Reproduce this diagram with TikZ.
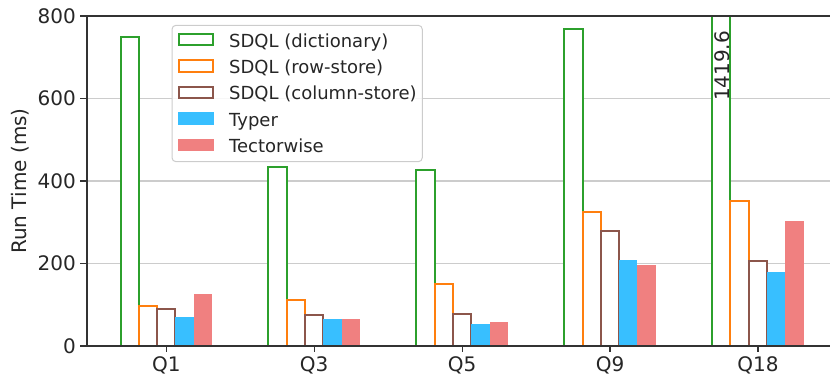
\documentclass[tikz,border=0pt]{standalone}
\usepackage{fontspec}
\setmainfont{DejaVu Sans}
\definecolor{cdict}{HTML}{2CA02C}
\definecolor{crow}{HTML}{FF7F0E}
\definecolor{ccol}{HTML}{8C564B}
\definecolor{ctyper}{HTML}{38BFFF}
\definecolor{ctector}{HTML}{F08080}
\definecolor{gridc}{HTML}{CCCCCC}
\definecolor{spinec}{HTML}{333333}
\begin{document}
\begin{tikzpicture}[x=1pt,y=-1pt,
  hollowbar/.style={draw=#1, line width=2pt, fill=white},
  filledbar/.style={fill=#1, draw=none},
  ticklabel/.style={font=\fontsize{20}{24}\selectfont, inner sep=0pt, text=black!85},
  legendtext/.style={font=\fontsize{18}{22}\selectfont, inner sep=0pt, anchor=base west, text=black!85},
  gridline/.style={gridc, line width=1.5pt},
  spine/.style={spinec, line width=1.5pt},
  tickmark/.style={spinec, line width=1.2pt},
]
\useasboundingbox (0,0) rectangle (830,378);

% horizontal grid
\foreach \v in {200,400,600}
  \draw[gridline] (87,{346-0.4125*\v}) -- (830,{346-0.4125*\v});

% bars, one series after the other
\def\bw{18.3}
\begin{scope}
\clip (87,16) rectangle (830,346);
\foreach \cx/\v in {166.3/750, 314.2/435, 462.1/426, 610/768, 757.9/1419.6}
  \draw[hollowbar=cdict] ({\cx-2.5*\bw},347) rectangle ({\cx-1.5*\bw},{346-0.4125*\v});
\foreach \cx/\v in {166.3/97, 314.2/112, 462.1/150, 610/325, 757.9/352}
  \draw[hollowbar=crow] ({\cx-1.5*\bw},347) rectangle ({\cx-0.5*\bw},{346-0.4125*\v});
\foreach \cx/\v in {166.3/89, 314.2/75, 462.1/78, 610/280, 757.9/205}
  \draw[hollowbar=ccol] ({\cx-0.5*\bw},347) rectangle ({\cx+0.5*\bw},{346-0.4125*\v});
\foreach \cx/\v in {166.3/70, 314.2/66, 462.1/54, 610/209, 757.9/180}
  \fill[filledbar=ctyper] ({\cx+0.5*\bw},346) rectangle ({\cx+1.5*\bw},{346-0.4125*\v});
\foreach \cx/\v in {166.3/125, 314.2/66, 462.1/57, 610/197, 757.9/304}
  \fill[filledbar=ctector] ({\cx+1.5*\bw},346) rectangle ({\cx+2.5*\bw},{346-0.4125*\v});
\end{scope}

% value of the clipped bar
\node[ticklabel, rotate=90] (q18val) at (722,66) {1419.6};

% axes
\draw[spine] (87,16) -- (830,16);
\draw[spine] (87,346) -- (830,346);
\draw[spine] (87,16) -- (87,346);

% y ticks and labels
\foreach \v in {0,200,400,600,800} {
  \draw[tickmark] (80,{346-0.4125*\v}) -- (87,{346-0.4125*\v});
  \node[ticklabel, anchor=east] (y\v) at (76,{346-0.4125*\v}) {\v};
}
\node[ticklabel, rotate=90, anchor=base] (ylab) at (27,181) {Run Time (ms)};

% x ticks and labels
\foreach \cx/\q in {166.3/Q1, 314.2/Q3, 462.1/Q5, 610/Q9, 757.9/Q18} {
  \draw[tickmark] (\cx,346) -- (\cx,352);
  \node[ticklabel, anchor=base] (x\q) at (\cx,371.6) {\q};
}

% legend
\draw[gridc, line width=1pt, fill=white, fill opacity=0.85, rounded corners=4pt]
  (172,25.3) rectangle (422.3,161.7);
\draw[cdict, line width=2pt, fill=white] (179,34) rectangle (213,45.4);
\draw[crow, line width=2pt, fill=white] (179,60.3) rectangle (213,71.7);
\draw[ccol, line width=2pt, fill=white] (179,86.6) rectangle (213,98);
\fill[ctyper] (178,112.3) rectangle (214,125);
\fill[ctector] (178,138.6) rectangle (214,151.3);
\node[legendtext] (l1) at (229,47.3) {SDQL (dictionary)};
\node[legendtext] (l2) at (229,73.6) {SDQL (row-store)};
\node[legendtext] (l3) at (229,99.9) {SDQL (column-store)};
\node[legendtext] (l4) at (229,126.2) {Typer};
\node[legendtext] (l5) at (229,152.5) {Tectorwise};
\end{tikzpicture}
\end{document}
